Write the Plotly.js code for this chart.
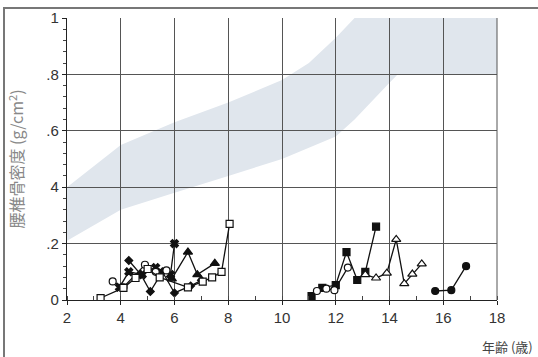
<!DOCTYPE html>
<html><head><meta charset="utf-8">
<script src="https://cdn.plot.ly/plotly-3.0.1.min.js"></script>
<style>
html,body{margin:0;padding:0;background:#fff}
#wrap{position:relative;width:538px;height:357px}
#c{width:538px;height:357px}
#bt{position:absolute;left:3px;top:7px;width:535px;height:2px;background:#777;z-index:10}
#bl{position:absolute;left:3px;top:7px;width:2px;height:350px;background:#777;z-index:10}
</style>
</head><body><div id="wrap"><div id="c"></div><div id="bt"></div><div id="bl"></div></div>
<script>
// Normal range band (age, lower, upper)
const bandAge   = [2, 4, 6, 8, 10, 11, 12, 12.7, 13, 14, 14.3, 16, 18];
const bandUpper = [0.40, 0.55, 0.63, 0.70, 0.78, 0.84, 0.93, 1.0, 1.0, 1.0, 1.0, 1.0, 1.0];
const bandLower = [0.21, 0.32, 0.38, 0.44, 0.50, 0.54, 0.58, 0.64, 0.67, 0.77, 0.80, 0.80, 0.80];

// Patient series
const ageS1 = [3.25, 4.1, 4.55, 5.0, 5.45, 6.5, 7.05, 7.4, 7.75, 8.05];
const bmdS1 = [0.007, 0.043, 0.078, 0.11, 0.08, 0.045, 0.065, 0.08, 0.10, 0.27];
const ageS2 = [3.7, 4.1, 4.9, 5.3, 5.7];
const bmdS2 = [0.066, 0.045, 0.125, 0.10, 0.105];
const ageS3 = [3.95, 4.3, 4.8, 5.3, 5.85, 6.0];
const bmdS3 = [0.045, 0.10, 0.09, 0.115, 0.09, 0.20];
const ageS4 = [4.3, 4.75, 5.1, 5.55, 6.0, 6.6, 7.0];
const bmdS4 = [0.14, 0.09, 0.03, 0.10, 0.025, 0.05, 0.07];
const ageS5 = [5.9, 6.5, 6.85, 7.5];
const bmdS5 = [0.075, 0.17, 0.09, 0.13];
const ageS6 = [11.1, 11.5, 12.0, 12.4, 12.8, 13.1, 13.5];
const bmdS6 = [0.014, 0.043, 0.053, 0.17, 0.071, 0.10, 0.26];
const ageS7 = [11.3, 11.65, 11.95, 12.45];
const bmdS7 = [0.032, 0.04, 0.035, 0.115];
const ageS8 = [13.1, 13.5, 13.9, 14.25, 14.55, 14.85, 15.2];
const bmdS8 = [0.09, 0.078, 0.095, 0.215, 0.058, 0.092, 0.128];
const ageS9 = [15.7, 16.3, 16.85];
const bmdS9 = [0.032, 0.035, 0.12];

const yTickVals = [0, 0.2, 0.4, 0.6, 0.8, 1];
const yTickText = ['0', '.2', '4', '.6', '.8', '1'];
const xTickVals = [2, 4, 6, 8, 10, 12, 14, 16, 18];

function series(x, y, symbol, open, size) {
  return {
    x: x, y: y, type: 'scatter', mode: 'lines+markers',
    line: {color: '#111', width: 1.3},
    marker: {symbol: symbol, size: size || 7, color: open ? '#fff' : '#111',
             line: {color: '#111', width: 1.2}},
    hoverinfo: 'skip', showlegend: false
  };
}

const traces = [
  series(ageS4, bmdS4, 'diamond', false, 6),
  series(ageS5, bmdS5, 'triangle-up', false, 8),
  series(ageS3, bmdS3, 'x', false, 7),
  series(ageS2, bmdS2, 'circle', true, 7),
  series(ageS1, bmdS1, 'square', true, 7),
  series(ageS6, bmdS6, 'square', false, 7),
  series(ageS7, bmdS7, 'circle', true, 7),
  series(ageS8, bmdS8, 'triangle-up', true, 8),
  series(ageS9, bmdS9, 'circle', false, 7)
];

// band path from arrays (data coordinates)
let path = 'M ' + bandAge[0] + ',' + bandLower[0];
for (let i = 1; i < bandAge.length; i++) path += ' L ' + bandAge[i] + ',' + bandLower[i];
for (let i = bandAge.length - 1; i >= 0; i--) path += ' L ' + bandAge[i] + ',' + bandUpper[i];
path += ' Z';

const layout = {
  width: 538, height: 357,
  margin: {l: 67, r: 41, t: 18, b: 57},
  paper_bgcolor: 'rgba(0,0,0,0)', plot_bgcolor: '#fff',
  font: {family: 'Liberation Sans, Arial, sans-serif', color: '#333', size: 15},
  xaxis: {
    range: [2, 18], tickvals: xTickVals, ticktext: xTickVals.map(String),
    showgrid: true, gridcolor: '#555', gridwidth: 1,
    showline: true, linecolor: '#222', linewidth: 1.2,
    ticks: 'outside', ticklen: 4, tickcolor: '#222',
    minor: {dtick: 1, ticks: 'inside', ticklen: 4, tickcolor: '#444', showgrid: false},
    zeroline: false, mirror: false, fixedrange: true,
    tickfont: {size: 15, color: '#333'}
  },
  yaxis: {
    range: [0, 1], tickvals: yTickVals, ticktext: yTickText,
    showgrid: true, gridcolor: '#555', gridwidth: 1,
    showline: true, linecolor: '#222', linewidth: 1.2,
    ticks: 'outside', ticklen: 4, tickcolor: '#222',
    minor: {dtick: 0.04, ticks: 'outside', ticklen: 3, tickcolor: '#444', showgrid: false},
    zeroline: false, fixedrange: true,
    tickfont: {size: 15, color: '#333'},
    title: {text: '腰椎骨密度 (g/cm<sup>2</sup>)', standoff: 18,
            font: {family: 'Noto Sans CJK JP, sans-serif', size: 16, color: '#888'}}
  },
  shapes: [
    {type: 'path', path: path, xref: 'x', yref: 'y', layer: 'below',
     fillcolor: '#e0e6ed', line: {width: 0}},
    {type: 'line', xref: 'paper', yref: 'paper', x0: 1.0, x1: 1.0, y0: 0, y1: 1,
     line: {color: '#555', width: 1}}
  ],
  annotations: [
    {text: '年齢 (歳)', xref: 'paper', yref: 'paper', x: 1.088, y: -0.125,
     xanchor: 'right', yanchor: 'top', showarrow: false,
     font: {family: 'Noto Sans CJK JP, sans-serif', size: 13, color: '#444'}}
  ]
};

Plotly.newPlot('c', traces, layout, {staticPlot: true, displayModeBar: false});
</script>
</body></html>
